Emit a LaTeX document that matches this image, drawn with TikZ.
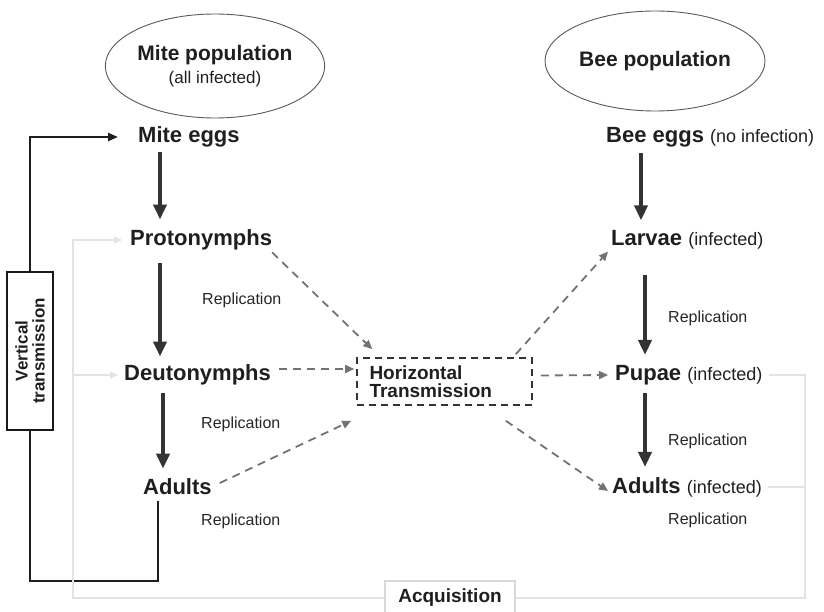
\documentclass[tikz,border=0pt]{standalone}
\usepackage{fontspec}
\setmainfont{Liberation Sans}
\usetikzlibrary{arrows.meta,shapes.geometric}

\tikzset{
  etape/.style={font=\fontsize{22}{24}\selectfont\bfseries, inner sep=0pt, anchor=west, text=black!88},
  repli/.style={font=\fontsize{16}{18}\selectfont, inner sep=0pt, anchor=west, text=black!85},
  popul/.style={ellipse, draw=black!65, line width=0.9pt, align=center, inner sep=0pt, text=black!88},
  fleche/.style={line width=4pt, draw=black!80, -{Triangle[length=15pt,width=13pt]}},
  pointille/.style={line width=1.8pt, draw=black!55, dash pattern=on 8pt off 6pt, -{Triangle[length=9pt,width=8pt]}},
  boucle/.style={line width=2.4pt, draw=black!88},
  faible/.style={line width=1.5pt, draw=black!11},
}
\newcommand{\infct}[1]{{\fontsize{18}{20}\selectfont\mdseries #1}}

\begin{document}
\begin{tikzpicture}[x=1pt,y=-1pt]
    \useasboundingbox (0,0) rectangle (824,612);

    % Populations
    \node[popul, minimum width=206pt, minimum height=104pt] (mitePop) at (215,66)
      {\fontsize{21}{24}\selectfont\bfseries Mite population\\[6pt]\fontsize{17}{19}\selectfont (all infected)};
    \node[popul, minimum width=220pt, minimum height=100pt] (beePop) at (655,61)
      {\fontsize{21}{24}\selectfont\bfseries Bee population};

    % Acariens
    \node[etape] (miteEggs) at (138,137) {Mite eggs};
    \node[etape] (proto) at (130,240) {Protonymphs};
    \node[etape] (deuto) at (124,375) {Deutonymphs};
    \node[etape] (miteAdults) at (143,487) {Adults};

    % Abeilles
    \node[etape] (beeEggs) at (606,137) {Bee eggs \infct{(no infection)}};
    \node[etape] (larvae) at (611,240) {Larvae \infct{(infected)}};
    \node[etape] (pupae) at (615,375) {Pupae \infct{(infected)}};
    \node[etape] (beeAdults) at (612,487) {Adults \infct{(infected)}};

    % Replication
    \node[repli] (rep1) at (202,300) {Replication};
    \node[repli] (rep2) at (201,424) {Replication};
    \node[repli] (rep3) at (201,521) {Replication};
    \node[repli] (rep4) at (668,318) {Replication};
    \node[repli] (rep5) at (668,441) {Replication};
    \node[repli] (rep6) at (668,520) {Replication};

    % Boites
    \node[draw=black!80, line width=1.6pt, dash pattern=on 7pt off 5pt,
      font=\fontsize{19}{18}\selectfont\bfseries, text=black!88, align=left,
      text width=150pt, inner xsep=12.5pt, minimum height=47pt] (htrans) at (444.5,381.5)
      {Horizontal\\Transmission};
    \node[draw=black!90, line width=2pt, rotate=90, align=center, inner sep=0pt,
      font=\fontsize{17}{17}\selectfont\bfseries, text=black!88,
      minimum width=158pt, minimum height=46pt] (vtrans) at (30,351)
      {Vertical\\transmission};
    \node[draw=black!15, line width=1.2pt, font=\fontsize{19}{21}\selectfont\bfseries,
      text=black!88, minimum width=130pt, minimum height=34pt] (acq) at (450,598) {Acquisition};

    % Fleches pleines
    \draw[fleche] ([xshift=22pt,yshift=-5pt]miteEggs.south west) -- ([xshift=30pt,yshift=10pt]proto.north west);
    \draw[fleche] ([xshift=30pt,yshift=-13pt]proto.south west) -- ([xshift=36pt,yshift=8pt]deuto.north west);
    \draw[fleche] ([xshift=39pt,yshift=-8pt]deuto.south west) -- ([xshift=20pt,yshift=10pt]miteAdults.north west);
    \draw[fleche] ([xshift=35pt,yshift=-6pt]beeEggs.south west) -- ([xshift=30pt,yshift=10pt]larvae.north west);
    \draw[fleche] ([xshift=34pt,yshift=-25pt]larvae.south west) -- ([xshift=30pt,yshift=10pt]pupae.north west);
    \draw[fleche] ([xshift=30pt,yshift=-8pt]pupae.south west) -- ([xshift=33pt,yshift=10pt]beeAdults.north west);

    % Transmission horizontale
    \draw[pointille] ([yshift=-2pt]proto.south east) -- ([xshift=16pt,yshift=8pt]htrans.north west);
    \draw[pointille] ([xshift=8pt,yshift=6pt]deuto.east) -- ([xshift=-2pt,yshift=6pt]deuto.east -| htrans.west);
    \draw[pointille] ([xshift=8pt,yshift=4pt]miteAdults.east) -- ([xshift=-5pt,yshift=-15pt]htrans.south west);
    \draw[pointille] ([xshift=-17pt,yshift=3pt]htrans.north east) -- ([xshift=-3pt,yshift=-2pt]larvae.south west);
    \draw[pointille] ([xshift=8pt,yshift=6pt]htrans.east) -- ([xshift=-7pt]pupae.west);
    \draw[pointille] ([xshift=-27pt,yshift=-15pt]htrans.south east) -- ([xshift=-4pt,yshift=-4pt]beeAdults.west);

    % Transmission verticale
    \draw[boucle] ([xshift=15pt,yshift=-6pt]miteAdults.south west) -- ++(0,80) -| (vtrans.west);
    \draw[boucle, -{Triangle[length=10pt,width=8pt]}] (vtrans.east) |- ([xshift=-20pt]miteEggs.west);

    % Acquisition
    \coordinate (gauche) at (73,598);
    \coordinate (droite) at (805,598);
    \draw[faible] ([xshift=6pt]pupae.east) -| (droite) -- (acq.east);
    \draw[faible] ([xshift=6pt]beeAdults.east) -- (beeAdults.east -| droite);
    \draw[faible, -{Triangle[length=8pt,width=7pt]}] (acq.west) -- (gauche) |- ([xshift=-8pt]proto.west);
    \draw[faible, -{Triangle[length=8pt,width=7pt]}] (gauche |- deuto.west) -- ([xshift=-6pt]deuto.west);

\end{tikzpicture}
\end{document}
